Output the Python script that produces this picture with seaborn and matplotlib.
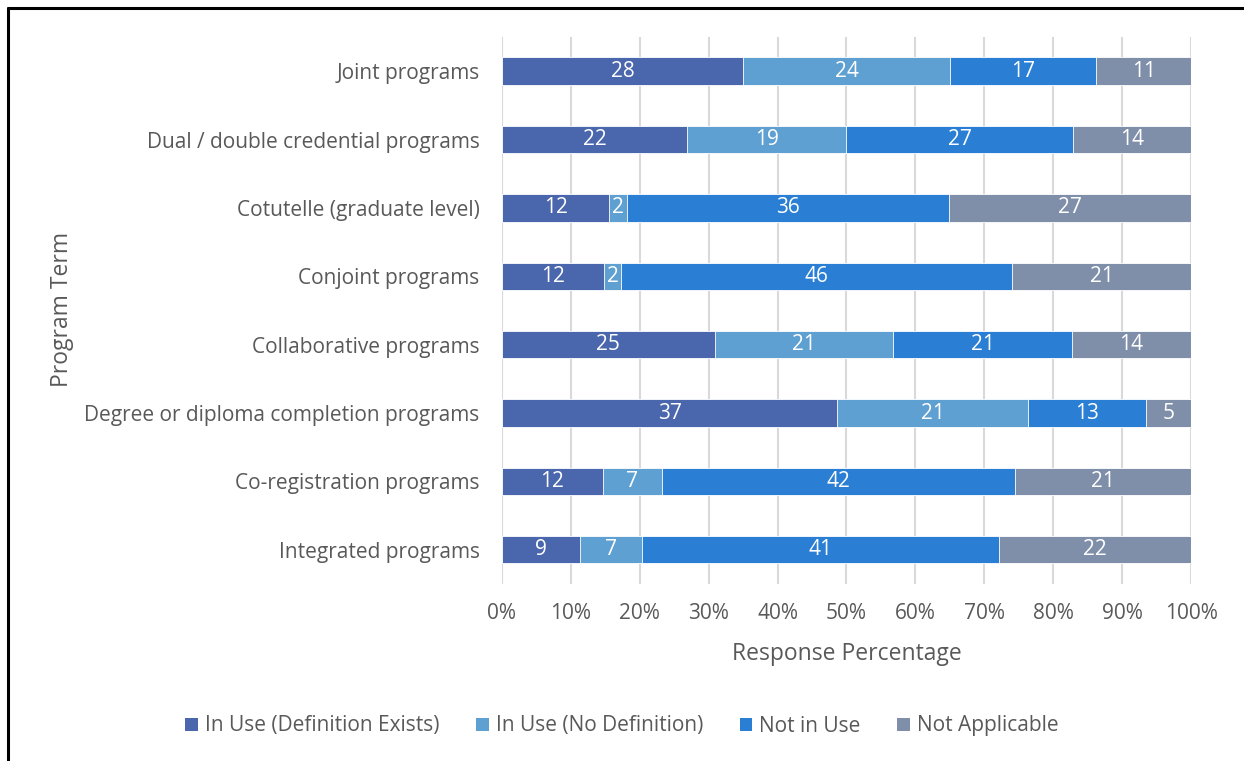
import pandas as pd
import matplotlib.pyplot as plt
from matplotlib.lines import Line2D
from matplotlib.patches import Patch
import seaborn as sns

# Data (counts per program term)
programs = [
    "Joint programs",
    "Dual / double credential programs",
    "Cotutelle (graduate level)",
    "Conjoint programs",
    "Collaborative programs",
    "Degree or diploma completion programs",
    "Co-registration programs",
    "Integrated programs",
]
in_use_defined = [28, 22, 12, 12, 25, 37, 12, 9]
in_use_no_def = [24, 19, 2, 2, 21, 21, 7, 7]
not_in_use = [17, 27, 36, 46, 21, 13, 42, 41]
not_applicable = [11, 14, 27, 21, 14, 5, 21, 22]

series = ["In Use (Definition Exists)", "In Use (No Definition)", "Not in Use", "Not Applicable"]
colors = ["#4a66ac", "#5fa0d3", "#2a7fd5", "#7f8fa9"]
ticks = [0, 10, 20, 30, 40, 50, 60, 70, 80, 90, 100]

sns.set_theme(style="white")
plt.rcParams["font.family"] = ["Open Sans", "DejaVu Sans"]
text_col = "#595959"

df = pd.DataFrame({
    "Program": programs,
    series[0]: in_use_defined,
    series[1]: in_use_no_def,
    series[2]: not_in_use,
    series[3]: not_applicable,
})
counts = df[series]
pct = counts.div(counts.sum(axis=1), axis=0) * 100
cum = pct.cumsum(axis=1)

fig = plt.figure(figsize=(12.44, 7.61), dpi=100)
ax = fig.add_axes([0.4035, 0.2326, 0.5539, 0.7188])

# stacked bars: draw cumulative totals back to front
for name, col in reversed(list(zip(series, colors))):
    sns.barplot(x=cum[name], y=df["Program"], color=col, width=0.4, ax=ax,
                orient="h", errorbar=None, saturation=1,
                edgecolor="white", linewidth=0.6, zorder=3)

# count labels in the middle of each segment
for i in range(len(programs)):
    for name in series:
        mid = cum.loc[i, name] - pct.loc[i, name] / 2
        ax.text(mid, i, str(counts.loc[i, name]), ha="center", va="center",
                color="white", fontsize=15, zorder=4)

ax.set_xlim(0, 100)
ax.set_ylim(len(programs) - 0.5, -0.5)
ax.set_xticks(ticks)
ax.set_xticklabels([f"{t}%" for t in ticks])
ax.xaxis.grid(True, color="#d9d9d9", linewidth=1.5, zorder=0)
ax.set_axisbelow(True)
for s in ax.spines.values():
    s.set_visible(False)
ax.tick_params(axis="both", length=0, labelsize=15, colors=text_col)
ax.tick_params(axis="x", pad=14)
ax.tick_params(axis="y", pad=16)
ax.set_xlabel("Response Percentage", fontsize=16.5, color=text_col, labelpad=13)
ax.set_ylabel("")
fig.text(0.05, 0.593, "Program Term", rotation=90, ha="center", va="center",
         fontsize=16.5, color=text_col)

handles = [Patch(facecolor=c, edgecolor="none") for c in colors]
leg = fig.legend(handles, series, loc="center", bbox_to_anchor=(0.5, 1 - 726 / 761),
                 ncol=4, frameon=False, fontsize=15, handlelength=0.6,
                 handleheight=0.6, handletextpad=0.35, columnspacing=1.75)
for t in leg.get_texts():
    t.set_color(text_col)

# outer frame (only top and left edges visible)
fig.add_artist(Line2D([8 / 1244, 8 / 1244], [0, 1 - 7.5 / 761], color="black",
                      linewidth=2.2, transform=fig.transFigure))
fig.add_artist(Line2D([8 / 1244, 1], [1 - 7.5 / 761, 1 - 7.5 / 761], color="black",
                      linewidth=2.2, transform=fig.transFigure))

fig.savefig("out.png", dpi=100)
